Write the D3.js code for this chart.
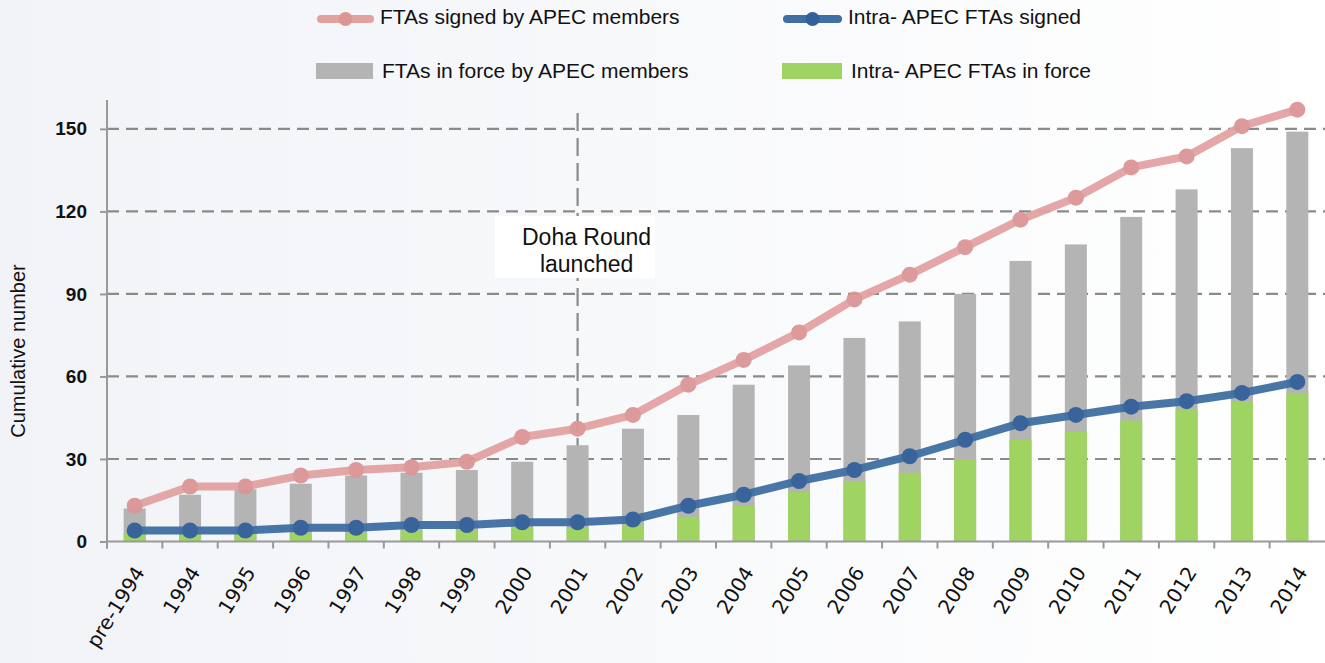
<!DOCTYPE html>
<html>
<head>
<meta charset="utf-8">
<script src="https://cdnjs.cloudflare.com/ajax/libs/d3/7.8.5/d3.min.js"></script>
<style>
  body { margin: 0; }
  svg { display: block; }
  .ylab text { font-family: "Liberation Sans", Arial, sans-serif; font-size: 19px; font-weight: bold; fill: #111; }
  .xlab text { font-family: "DejaVu Sans", Verdana, sans-serif; font-size: 20px; fill: #111; }
</style>
</head>
<body>
<div id="chart"></div>
<script>
var categories = ["pre-1994", "1994", "1995", "1996", "1997", "1998", "1999", "2000", "2001", "2002", "2003",
                  "2004", "2005", "2006", "2007", "2008", "2009", "2010", "2011", "2012", "2013", "2014"];
var signedAll   = [13, 20, 20, 24, 26, 27, 29, 38, 41, 46, 57, 66, 76, 88, 97, 107, 117, 125, 136, 140, 151, 157];
var signedIntra = [4, 4, 4, 5, 5, 6, 6, 7, 7, 8, 13, 17, 22, 26, 31, 37, 43, 46, 49, 51, 54, 58];
var forceAll    = [12, 17, 19, 21, 24, 25, 26, 29, 35, 41, 46, 57, 64, 74, 80, 90, 102, 108, 118, 128, 143, 149];
var forceIntra  = [3, 3, 3, 3, 3, 4, 4, 5, 5, 6, 9, 13, 18, 22, 25, 30, 37, 40, 44, 48, 51, 54];
var yTicks = [0, 30, 60, 90, 120, 150];
var dohaYear = "2001";

var W = 1325, H = 663;
var left = 107, right = 1325, bottom = 541.5;

var svg = d3.select("#chart").append("svg")
    .attr("width", W)
    .attr("height", H);

var grad = svg.append("defs").append("linearGradient")
    .attr("id", "bg").attr("x1", "0").attr("x2", "1").attr("y1", "0").attr("y2", "0");
grad.append("stop").attr("offset", "0").attr("stop-color", "#f1f3f7");
grad.append("stop").attr("offset", "1").attr("stop-color", "#ffffff");
svg.append("rect").attr("width", W).attr("height", H).attr("fill", "url(#bg)");

var x = d3.scaleBand().domain(categories).range([left, right]);
var y = d3.scaleLinear().domain([0, 160.5]).range([bottom, 100]);
var bw = 22;

// grid lines
svg.append("g")
  .selectAll("line")
  .data(yTicks.filter(function(d) { return d > 0; })).enter()
  .append("line")
  .attr("x1", left).attr("x2", right)
  .attr("y1", function(d) { return y(d); })
  .attr("y2", function(d) { return y(d); })
  .attr("stroke", "#8a8a8a")
  .attr("stroke-width", 2.2)
  .attr("stroke-dasharray", "12,7");

// Doha Round marker
var dx = x(dohaYear) + x.bandwidth() / 2;
svg.append("line")
  .attr("x1", dx).attr("x2", dx)
  .attr("y1", 113).attr("y2", 466)
  .attr("stroke", "#8a8a8a")
  .attr("stroke-width", 2.2)
  .attr("stroke-dasharray", "18,7");
svg.append("rect")
  .attr("x", 495).attr("y", 216).attr("width", 160).attr("height", 62)
  .attr("fill", "#ffffff");
var doha = svg.append("text")
  .attr("x", dx + 9).attr("y", 245)
  .style("font-family", "'Liberation Sans', Arial, sans-serif")
  .style("font-size", "23px")
  .style("fill", "#111")
  .attr("text-anchor", "middle");
doha.append("tspan").attr("x", dx + 9).text("Doha Round");
doha.append("tspan").attr("x", dx + 9).attr("dy", 27).text("launched");

// bars
svg.append("g").selectAll("rect")
  .data(forceAll).enter().append("rect")
  .attr("x", function(d, i) { return x(categories[i]) + x.bandwidth() / 2 - bw / 2; })
  .attr("y", function(d) { return y(d); })
  .attr("width", bw)
  .attr("height", function(d) { return bottom - y(d); })
  .attr("fill", "#b4b4b4");

svg.append("g").selectAll("rect")
  .data(forceIntra).enter().append("rect")
  .attr("x", function(d, i) { return x(categories[i]) + x.bandwidth() / 2 - bw / 2; })
  .attr("y", function(d) { return y(d); })
  .attr("width", bw)
  .attr("height", function(d) { return bottom - y(d); })
  .attr("fill", "#a0d462");

// axes
var yAxis = d3.axisLeft(y).tickValues(yTicks).tickSize(7).tickPadding(13);
var yy = svg.append("g")
  .attr("class", "ylab")
  .attr("transform", "translate(" + left + ",0)")
  .call(yAxis);
yy.select(".domain").remove();
yy.selectAll(".tick line").attr("stroke", "#999").attr("stroke-width", 2);
svg.append("line")
  .attr("x1", left).attr("x2", left).attr("y1", 100).attr("y2", bottom + 7)
  .attr("stroke", "#999").attr("stroke-width", 2);

var xAxis = d3.axisBottom(x).tickSize(0).tickPadding(0);
var xx = svg.append("g")
  .attr("class", "xlab")
  .attr("transform", "translate(0," + bottom + ")")
  .call(xAxis);
xx.select(".domain").remove();
xx.selectAll(".tick line").remove();
xx.selectAll(".tick text")
  .attr("text-anchor", "end")
  .attr("dy", "0.35em")
  .attr("transform", "translate(5,27) rotate(-58)");
svg.append("line")
  .attr("x1", left).attr("x2", right).attr("y1", bottom).attr("y2", bottom)
  .attr("stroke", "#999").attr("stroke-width", 2);
svg.append("g").selectAll("line")
  .data(categories).enter().append("line")
  .attr("x1", function(d) { return x(d); })
  .attr("x2", function(d) { return x(d); })
  .attr("y1", bottom).attr("y2", bottom + 7)
  .attr("stroke", "#999").attr("stroke-width", 2);

svg.append("text")
  .attr("transform", "translate(25," + 351 + ") rotate(-90)")
  .attr("text-anchor", "middle")
  .style("font-family", "'Liberation Sans', Arial, sans-serif")
  .style("font-size", "20px")
  .style("fill", "#111")
  .text("Cumulative number");

// lines
function drawLine(vals, lineColor, dotColor) {
  var line = d3.line()
    .x(function(d, i) { return x(categories[i]) + x.bandwidth() / 2; })
    .y(function(d) { return y(d); });
  var g = svg.append("g").attr("opacity", 0.95);
  g.append("path")
    .datum(vals)
    .attr("d", line)
    .attr("fill", "none")
    .attr("stroke", lineColor)
    .attr("stroke-width", 8)
    .attr("stroke-linejoin", "round");
  g.selectAll("circle")
    .data(vals).enter().append("circle")
    .attr("cx", function(d, i) { return x(categories[i]) + x.bandwidth() / 2; })
    .attr("cy", function(d) { return y(d); })
    .attr("r", 8)
    .attr("fill", dotColor);
}
drawLine(signedAll, "#e3a2a2", "#dc9595");
drawLine(signedIntra, "#3f6fa3", "#33609a");

// legend
var lg = svg.append("g")
  .style("font-family", "'Liberation Sans', Arial, sans-serif")
  .style("font-size", "21px")
  .style("fill", "#111");
function legendLine(x0, x1, yv, col, dot, label) {
  lg.append("line").attr("x1", x0).attr("x2", x1).attr("y1", yv).attr("y2", yv)
    .attr("stroke", col).attr("stroke-width", 8).attr("stroke-linecap", "round");
  lg.append("circle").attr("cx", (x0 + x1) / 2).attr("cy", yv).attr("r", 7).attr("fill", dot);
  lg.append("text").attr("x", x1 + 10).attr("y", yv - 2).attr("dy", "0.35em").text(label);
}
function legendRect(x0, w, yv, col, label) {
  lg.append("rect").attr("x", x0).attr("y", yv - 8).attr("width", w).attr("height", 16).attr("fill", col);
  lg.append("text").attr("x", x0 + w + 9).attr("y", yv).attr("dy", "0.35em").text(label);
}
legendLine(321, 370, 19, "#e3a2a2", "#dc9595", "FTAs signed by APEC members");
legendLine(787, 838, 19, "#3f6fa3", "#33609a", "Intra- APEC FTAs signed");
legendRect(316, 57, 71, "#b4b4b4", "FTAs in force by APEC members");
legendRect(782, 60, 71, "#a0d462", "Intra- APEC FTAs in force");
</script>
</body>
</html>
